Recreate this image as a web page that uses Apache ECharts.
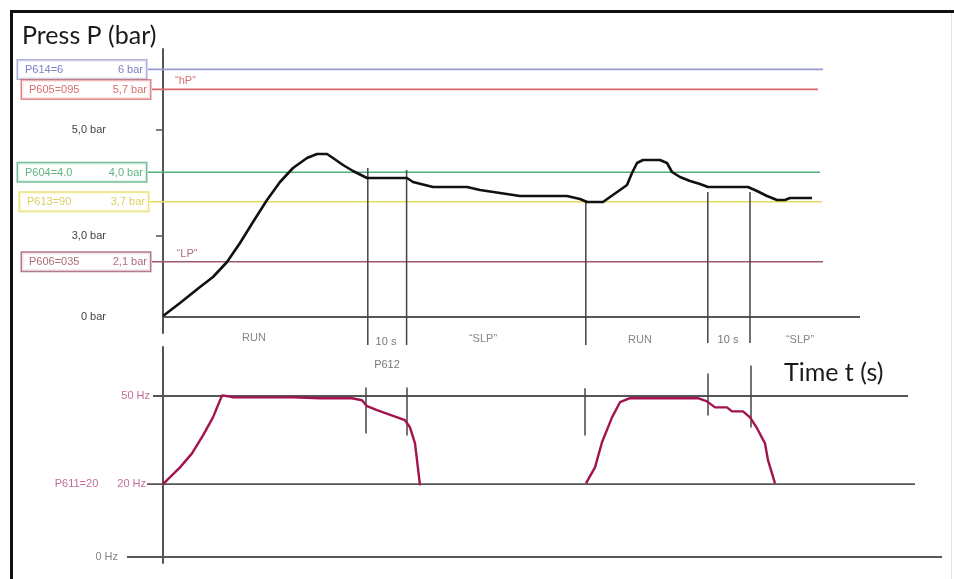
<!DOCTYPE html>
<html><head><meta charset="utf-8">
<script src="https://cdn.jsdelivr.net/npm/echarts@6/dist/echarts.min.js"></script>
<style>html,body{margin:0;padding:0;background:#fff}#c{width:954px;height:579px}</style>
</head><body><div id="c"></div>
<script>
// Schematic diagram: vertical scales are not linear in the original drawing,
// so each panel uses a "level" unit (drawing height); physical values appear as labels.
// Time axis in seconds.

// ---- Pressure panel ----
const pressTime  = [0,4.25,9.25,12.5,16,19.25,22.5,26,29.25,32.5,36,38.5,41,42.5,45,47.5,51,61,62.5,67.5,76,79.25,84.25,89.25,101,104.25,106,110,111.75,114.25,116,117.25,118.5,120,124.25,126,127.25,129.25,131.75,134.25,136.25,146.25,148.5,151,153.5,155.5,156.75,162.25];
const pressLevel = [0.25,3.5,7.5,10,13.75,18.5,23.75,29.25,33.75,37.25,39.75,40.75,40.75,39.75,38,36.5,34.75,34.75,33.75,32.5,32.5,31.75,31,30.25,30.25,29.5,28.75,28.75,30,31.75,33,36,38.5,39.25,39.25,38.5,36.25,35,34,33.25,32.5,32.5,31.5,30.25,29.25,29.25,29.75,29.75];

const pressTickLabels = ['0 bar','3,0 bar','5,0 bar'];
const pressTickLevels = [0, 20.25, 46.75];

const setParam     = ['P614=6','P605=095','P604=4.0','P613=90','P606=035'];
const setValueText = ['6 bar','5,7 bar','4,0 bar','3,7 bar','2,1 bar'];
const setLevel     = [61.9, 56.9, 36.2, 28.8, 13.8];
const setStart     = [-3.75, -2.75, -3.75, -3.25, -2.75];
const setEnd       = [165, 163.75, 164.25, 164.75, 165];

const pressBaseStart = 0, pressBaseEnd = 174.25;

const upMarkTime   = [51.2, 60.9, 105.7, 136.2, 146.75];
const upMarkTop    = [37.25, 36.75, 29.25, 31.25, 31.25];
const upMarkBottom = [-7, -7, -7, -6.5, -6.5];

const phaseText  = ['RUN','10 s','\u201cSLP\u201d','RUN','10 s','\u201cSLP\u201d','P612','\u201chP\u201d','\u201cLP\u201d'];
const phaseTime  = [22.75, 55.75, 80, 119.25, 141.25, 159.25, 56, 5.6, 6];
const phaseLevel = [-5.25, -6.25, -5.5, -5.75, -5.75, -5.75, -12, 59.1, 15.75];

// ---- Frequency panel ----
const freqRun1Time  = [0,4.25,7.25,10,12.5,14.75,16.25,17.5,32.5,39.25,47.25,49.75,51,53.5,60.5,61.75,63,63.5,64.25];
const freqRun1Level = [18.2,22.4,25.9,30.4,34.9,40.4,40.2,39.9,39.9,39.7,39.7,39.2,37.7,36.7,34.2,32.4,28.4,24.2,17.9];
const freqRun2Time  = [105.75,108,109.75,112.25,114.25,116.75,133.75,136,138,141,142.25,145,146.75,148.5,150.5,151.25,153];
const freqRun2Level = [18.4,22.4,28.7,34.9,38.7,39.7,39.7,38.9,37.4,37.4,36.4,36.4,34.9,32.2,28.4,24.2,18.4];

const freqLineText  = ['0 Hz','20 Hz','50 Hz'];
const freqLineLevel = [0, 18.2, 40.25];
const freqLineStart = [-9, -4, -2.5];
const freqLineEnd   = [194.75, 188, 186.25];
const freqParamText = 'P611=20';

const lowMarkTime   = [50.75, 61, 105.5, 136.25, 147];
const lowMarkTop    = [42.4, 42.4, 42.2, 45.9, 47.9];
const lowMarkBottom = [30.9, 30.4, 30.4, 35.4, 32.4];

// ---- styles ----
const setColors  = ['#9a9ad2','#d66a6a','#4fb07e','#e6dc5a','#a05a6c'];
const setText    = ['#5c5cb4','#d04848','#3aa064','#d4c43a','#9a4658'];
const gray = '#555';
const magenta = '#b4477f';
const smallFont = 'Liberation Sans, Arial, sans-serif';

const zip = (a, b) => a.map((v, i) => [v, b[i]]);
const series = [];

// setpoint lines (upper)
setLevel.forEach((lv, i) => {
  series.push({type:'line', xAxisIndex:0, yAxisIndex:0, clip:false, silent:true, symbol:'none',
    data:[[setStart[i], lv],[setEnd[i], lv]], lineStyle:{color:setColors[i], width:1.6}});
});
// boxed setpoint labels
series.push({type:'scatter', xAxisIndex:0, yAxisIndex:0, clip:false, silent:true, symbolSize:0,
  data: setLevel.map((lv, i) => ({
    value:[setStart[i], lv],
    label:{show:true, position:'left', distance:2,
      formatter:'{n|' + setParam[i] + '}{v|' + setValueText[i] + '}',
      borderColor:setColors[i], borderWidth:1.5, padding:[4,3,3,7], backgroundColor:'#fff',
      rich:{n:{width:66, align:'left', color:setText[i], fontSize:11, fontFamily:smallFont},
            v:{width:52, align:'right', color:setText[i], fontSize:11, fontFamily:smallFont}}}
  }))});
// pressure baseline
series.push({type:'line', xAxisIndex:0, yAxisIndex:0, clip:false, silent:true, symbol:'none',
  data:[[pressBaseStart,0],[pressBaseEnd,0]], lineStyle:{color:gray, width:2}});
// upper markers
upMarkTime.forEach((t, i) => {
  series.push({type:'line', xAxisIndex:0, yAxisIndex:0, clip:false, silent:true, symbol:'none',
    data:[[t, upMarkTop[i]],[t, upMarkBottom[i]]], lineStyle:{color:'#444', width:1.5}});
});
// pressure curve
series.push({type:'line', xAxisIndex:0, yAxisIndex:0, clip:false, silent:true, symbol:'none',
  data: zip(pressTime, pressLevel), lineStyle:{color:'#111', width:2.6}});
// annotations
const annColor = ['#666','#555','#666','#666','#555','#666','#555','#d04848','#9a4658'];
series.push({type:'scatter', xAxisIndex:0, yAxisIndex:0, clip:false, silent:true, symbolSize:0,
  data: phaseText.map((s, i) => ({value:[phaseTime[i], phaseLevel[i]],
    label:{show:true, position:'inside', formatter:s, color:annColor[i], fontSize:11, fontFamily:smallFont}}))});

// lower reference lines
freqLineLevel.forEach((lv, i) => {
  series.push({type:'line', xAxisIndex:1, yAxisIndex:1, clip:false, silent:true, symbol:'none',
    data:[[freqLineStart[i], lv],[freqLineEnd[i], lv]], lineStyle:{color:gray, width:1.8}});
});
series.push({type:'scatter', xAxisIndex:1, yAxisIndex:1, clip:false, silent:true, symbolSize:0,
  data: freqLineLevel.map((lv, i) => ({value:[freqLineStart[i], lv],
    label:{show:true, position:'left', distance:[9,1,3][i],
      formatter: i === 1 ? '{p|' + freqParamText + '}{s|}{h|' + freqLineText[i] + '}' : '{h|' + freqLineText[i] + '}',
      rich:{p:{color:magenta, fontSize:11, fontFamily:smallFont},
            s:{width:19},
            h:{color: i === 0 ? '#666' : magenta, fontSize:11, fontFamily:smallFont}}}}))});
// lower markers
lowMarkTime.forEach((t, i) => {
  series.push({type:'line', xAxisIndex:1, yAxisIndex:1, clip:false, silent:true, symbol:'none',
    data:[[t, lowMarkTop[i]],[t, lowMarkBottom[i]]], lineStyle:{color:'#444', width:1.5}});
});
// frequency curves
[[freqRun1Time, freqRun1Level],[freqRun2Time, freqRun2Level]].forEach(([tt, ll]) => {
  series.push({type:'line', xAxisIndex:1, yAxisIndex:1, clip:false, silent:true, symbol:'none',
    data: zip(tt, ll), lineStyle:{color:'#a3134f', width:2.4}});
});

const xAxisBase = {type:'value', min:-10, max:196, show:true,
  axisLine:{show:false}, axisTick:{show:false}, axisLabel:{show:false}, splitLine:{show:false}};

const option = {
  animation:false,
  backgroundColor:'#fff',
  grid:[
    {left:123, width:824, top:49, height:284},
    {left:123, width:824, top:347, height:216}
  ],
  xAxis:[Object.assign({gridIndex:0}, xAxisBase), Object.assign({gridIndex:1}, xAxisBase)],
  yAxis:[
    {gridIndex:0, type:'value', min:-4, max:67, splitLine:{show:false},
     axisLine:{show:true, onZero:true, lineStyle:{color:gray, width:2}},
     axisTick:{show:true, customValues:[pressTickLevels[1], pressTickLevels[2]], length:7, lineStyle:{color:gray, width:1.5}},
     axisLabel:{show:true, customValues:pressTickLevels, margin:17, color:'#444', fontSize:11, fontFamily:smallFont,
       formatter:(v) => { const k = pressTickLevels.indexOf(v); return k >= 0 ? pressTickLabels[k] : ''; }}},
    {gridIndex:1, type:'value', min:-1.5, max:52.5, splitLine:{show:false},
     axisLine:{show:true, onZero:true, lineStyle:{color:gray, width:2}},
     axisTick:{show:false}, axisLabel:{show:false}}
  ],
  graphic:[
    {type:'line', silent:true, shape:{x1:10, y1:11.5, x2:954, y2:11.5}, style:{stroke:'#111', lineWidth:3}},
    {type:'line', silent:true, shape:{x1:11.5, y1:10, x2:11.5, y2:579}, style:{stroke:'#111', lineWidth:3}},
    {type:'line', silent:true, shape:{x1:951.5, y1:13, x2:951.5, y2:579}, style:{stroke:'#e2e2e2', lineWidth:1}},
    {type:'text', silent:true, x:22, y:36, style:{text:'Press P (bar)', font:'25px Lato, sans-serif', fill:'#1a1a1a',
      textVerticalAlign:'middle', verticalAlign:'middle'}},
    {type:'text', silent:true, x:784, y:373, style:{text:'Time t (s)', font:'25px Lato, sans-serif', fill:'#1a1a1a',
      textVerticalAlign:'middle', verticalAlign:'middle'}}
  ],
  series: series
};
const chart = echarts.init(document.getElementById('c'), null, {renderer:'canvas'});
chart.setOption(option);
</script></body></html>
